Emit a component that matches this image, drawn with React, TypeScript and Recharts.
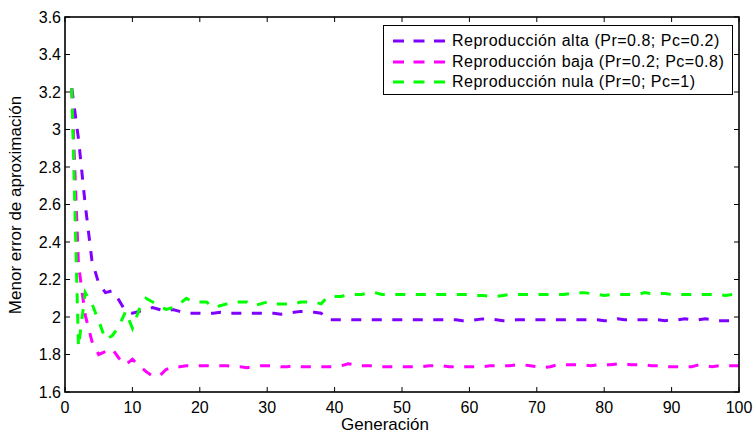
import React from "react";
import { LineChart, Line, XAxis, YAxis } from "recharts";

// generations 1..100
const generations = Array.from({ length: 100 }, (_, i) => i + 1);

const altaValues = [
  3.22, 2.95, 2.6, 2.3, 2.18, 2.13, 2.14, 2.09, 2.03, 2.02,
  2.03, 2.04, 2.05, 2.04, 2.03, 2.04, 2.03, 2.02, 2.02, 2.02,
  2.02, 2.02, 2.025, 2.02, 2.02, 2.02, 2.02, 2.02, 2.02, 2.02,
  2.02, 2.015, 2.02, 2.025, 2.03, 2.03, 2.025, 2.02, 1.985, 1.985,
  1.985, 1.985, 1.985, 1.985, 1.985, 1.985, 1.985, 1.985, 1.985, 1.985,
  1.985, 1.985, 1.985, 1.985, 1.985, 1.985, 1.985, 1.985, 1.98, 1.98,
  1.985, 1.99, 1.99, 1.985, 1.98, 1.98, 1.985, 1.985, 1.985, 1.985,
  1.985, 1.985, 1.985, 1.985, 1.985, 1.985, 1.985, 1.985, 1.985, 1.98,
  1.98, 1.99, 1.985, 1.985, 1.985, 1.985, 1.985, 1.985, 1.98, 1.985,
  1.985, 1.99, 1.985, 1.985, 1.99, 1.985, 1.98, 1.98, 1.98, 1.98,
];

const bajaValues = [
  3.22, 2.28, 2.01, 1.87, 1.8, 1.815, 1.83, 1.78, 1.745, 1.775,
  1.74, 1.71, 1.685, 1.685, 1.72, 1.735, 1.735, 1.74, 1.74, 1.74,
  1.74, 1.74, 1.74, 1.74, 1.735, 1.735, 1.73, 1.735, 1.74, 1.74,
  1.74, 1.735, 1.735, 1.74, 1.735, 1.735, 1.735, 1.735, 1.735, 1.735,
  1.74, 1.75, 1.745, 1.74, 1.74, 1.74, 1.735, 1.735, 1.735, 1.735,
  1.735, 1.735, 1.735, 1.74, 1.74, 1.74, 1.735, 1.735, 1.735, 1.735,
  1.735, 1.735, 1.74, 1.74, 1.74, 1.74, 1.745, 1.745, 1.74, 1.735,
  1.73, 1.735, 1.745, 1.745, 1.745, 1.745, 1.745, 1.74, 1.745, 1.745,
  1.745, 1.75, 1.75, 1.745, 1.745, 1.745, 1.74, 1.74, 1.735, 1.735,
  1.735, 1.735, 1.735, 1.745, 1.74, 1.735, 1.74, 1.74, 1.74, 1.74,
];

const nulaValues = [
  3.22, 1.84, 2.13, 2.07, 1.98, 1.88, 1.9, 1.95, 2.03, 1.94,
  2.04, 2.1, 2.08, 2.06, 2.04, 2.05, 2.07, 2.1, 2.08, 2.08,
  2.08, 2.05, 2.06, 2.07, 2.08, 2.08, 2.08, 2.06, 2.07, 2.08,
  2.07, 2.07, 2.07, 2.07, 2.08, 2.08, 2.08, 2.07, 2.11, 2.11,
  2.11, 2.12, 2.12, 2.12, 2.13, 2.13, 2.12, 2.12, 2.12, 2.12,
  2.12, 2.12, 2.12, 2.12, 2.12, 2.12, 2.12, 2.12, 2.12, 2.12,
  2.115, 2.115, 2.11, 2.11, 2.115, 2.12, 2.12, 2.12, 2.12, 2.12,
  2.12, 2.12, 2.12, 2.12, 2.125, 2.13, 2.13, 2.125, 2.12, 2.115,
  2.12, 2.12, 2.12, 2.12, 2.12, 2.13, 2.125, 2.125, 2.125, 2.12,
  2.12, 2.12, 2.12, 2.12, 2.12, 2.12, 2.12, 2.115, 2.12, 2.12,
];

const xTicks = [0, 10, 20, 30, 40, 50, 60, 70, 80, 90, 100];
const yTicks = [1.6, 1.8, 2, 2.2, 2.4, 2.6, 2.8, 3, 3.2, 3.4, 3.6];

const seriesInfo = [
  { key: "alta", name: "Reproducción alta (Pr=0.8; Pc=0.2)", color: "#8000ff" },
  { key: "baja", name: "Reproducción baja (Pr=0.2; Pc=0.8)", color: "#ff00ff" },
  { key: "nula", name: "Reproducción nula (Pr=0; Pc=1)", color: "#00ff00" },
];

const data = generations.map((g, i) => ({
  gen: g,
  alta: altaValues[i],
  baja: bajaValues[i],
  nula: nulaValues[i],
}));

// plot box
const W = 755;
const H = 435;
const TOP = 17;
const BOTTOM = 392;
const LEFT = 65;
const RIGHT = 739;
const FONT = "Arial, 'Liberation Sans', Helvetica, sans-serif";

const XTick = (props: any) => {
  const { x, payload } = props;
  return (
    <g>
      <line x1={x} x2={x} y1={BOTTOM} y2={BOTTOM - 5} stroke="#000" />
      <line x1={x} x2={x} y1={TOP} y2={TOP + 5} stroke="#000" />
      <text x={x} y={BOTTOM + 21} textAnchor="middle" fontSize={16} fill="#000" fontFamily={FONT}>
        {payload.value}
      </text>
    </g>
  );
};

const YTick = (props: any) => {
  const { y, payload } = props;
  return (
    <g>
      <line x1={LEFT} x2={LEFT + 5} y1={y} y2={y} stroke="#000" />
      <line x1={RIGHT} x2={RIGHT - 5} y1={y} y2={y} stroke="#000" />
      <text x={LEFT - 4} y={y} dy="0.35em" textAnchor="end" fontSize={16} fill="#000" fontFamily={FONT}>
        {String(+Number(payload.value).toFixed(1))}
      </text>
    </g>
  );
};

const LegendBox = () => (
  <div
    style={{
      position: "absolute",
      left: 383,
      top: 25,
      width: 350,
      height: 70,
      border: "1px solid #000",
      background: "#fff",
      boxSizing: "border-box",
      paddingTop: 5,
      paddingLeft: 9,
      fontFamily: FONT,
      fontSize: 16,
      letterSpacing: 0.5,
      color: "#000",
    }}
  >
    {seriesInfo.map((s) => (
      <div key={s.key} style={{ height: 20.5, display: "flex", alignItems: "center" }}>
        <svg width={52} height={6} style={{ marginRight: 7 }}>
          <line x1={0} x2={52} y1={3} y2={3} stroke={s.color} strokeWidth={3} strokeDasharray="11 9.5" />
        </svg>
        <span>{s.name}</span>
      </div>
    ))}
  </div>
);

// box around the axes
const Frame = () => (
  <svg
    width={W}
    height={H}
    style={{ position: "absolute", left: 0, top: 0, pointerEvents: "none" }}
  >
    <rect
      x={LEFT}
      y={TOP}
      width={RIGHT - LEFT}
      height={BOTTOM - TOP}
      fill="none"
      stroke="#000"
      strokeWidth={1.6}
    />
  </svg>
);

export default function App() {
  return (
    <div style={{ position: "absolute", left: 0, top: 0, width: W, height: H, background: "#fff" }}>
      <LineChart
        width={W}
        height={H}
        data={data}
        margin={{ top: TOP, right: W - RIGHT, left: 0, bottom: 0 }}
      >
        <XAxis
          dataKey="gen"
          type="number"
          domain={[0, 100]}
          ticks={xTicks}
          height={H - BOTTOM}
          tick={<XTick />}
          tickLine={false}
          axisLine={false}
          interval={0}
          label={{
            content: () => (
              <text x={385} y={430} textAnchor="middle" fontSize={17} fontFamily={FONT} fill="#000">
                Generación
              </text>
            ),
          }}
        />
        <YAxis
          type="number"
          domain={[1.6, 3.6]}
          ticks={yTicks}
          width={LEFT}
          tick={<YTick />}
          tickLine={false}
          axisLine={false}
          interval={0}
          allowDataOverflow
          label={{
            content: () => (
              <text
                x={21}
                y={205}
                transform="rotate(-90 21 205)"
                textAnchor="middle"
                fontSize={17}
                fontFamily={FONT}
                fill="#000"
              >
                Menor error de aproximación
              </text>
            ),
          }}
        />
        {seriesInfo.map((s) => (
          <Line
            key={s.key}
            dataKey={s.key}
            name={s.name}
            stroke={s.color}
            strokeWidth={3}
            strokeDasharray="10 10.5"
            dot={false}
            activeDot={false}
            type="linear"
            isAnimationActive={false}
          />
        ))}
      </LineChart>
      <Frame />
      <LegendBox />
    </div>
  );
}
